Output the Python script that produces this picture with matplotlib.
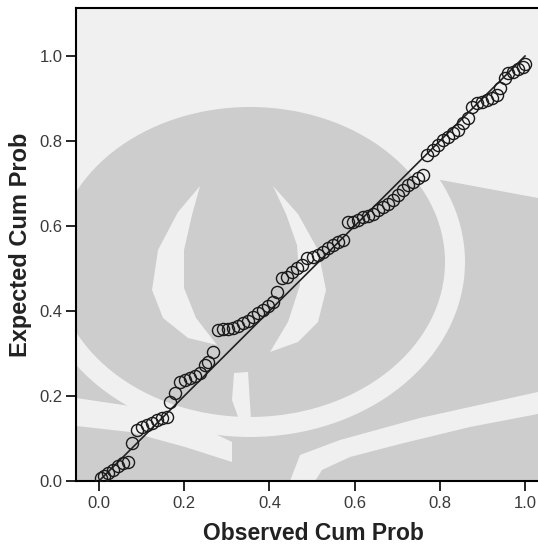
import matplotlib.pyplot as plt
from matplotlib.patches import Polygon, Ellipse

# P-P plot: observed vs expected cumulative probability
observed = [0.005, 0.012, 0.021, 0.033, 0.045, 0.056, 0.068, 0.077, 0.089, 0.101,
            0.113, 0.124, 0.136, 0.148, 0.160, 0.167, 0.178, 0.190, 0.202, 0.214,
            0.225, 0.237, 0.249, 0.256, 0.268, 0.279, 0.291, 0.303, 0.315, 0.326,
            0.338, 0.350, 0.362, 0.373, 0.385, 0.397, 0.408, 0.418, 0.430, 0.441,
            0.453, 0.465, 0.477, 0.488, 0.502, 0.514, 0.526, 0.538, 0.549, 0.561,
            0.573, 0.585, 0.596, 0.608, 0.620, 0.631, 0.643, 0.655, 0.667, 0.678,
            0.690, 0.702, 0.714, 0.725, 0.737, 0.749, 0.761, 0.770, 0.784, 0.796,
            0.808, 0.819, 0.831, 0.843, 0.854, 0.866, 0.876, 0.887, 0.899, 0.911,
            0.923, 0.934, 0.941, 0.953, 0.960, 0.972, 0.984, 0.995, 1.000]
expected = [0.007, 0.012, 0.019, 0.026, 0.035, 0.042, 0.045, 0.089, 0.120, 0.127,
            0.132, 0.136, 0.144, 0.148, 0.151, 0.186, 0.207, 0.233, 0.238, 0.242,
            0.247, 0.254, 0.273, 0.280, 0.304, 0.355, 0.358, 0.358, 0.360, 0.365,
            0.372, 0.376, 0.386, 0.395, 0.402, 0.412, 0.421, 0.445, 0.478, 0.480,
            0.492, 0.501, 0.508, 0.525, 0.527, 0.532, 0.539, 0.548, 0.555, 0.562,
            0.567, 0.609, 0.609, 0.614, 0.621, 0.624, 0.628, 0.638, 0.645, 0.652,
            0.661, 0.673, 0.685, 0.696, 0.704, 0.713, 0.720, 0.767, 0.779, 0.791,
            0.802, 0.809, 0.819, 0.826, 0.842, 0.854, 0.880, 0.889, 0.892, 0.896,
            0.901, 0.908, 0.925, 0.948, 0.960, 0.962, 0.969, 0.974, 0.981]
ref_line = [0.0, 1.0]
ticks = [0.0, 0.2, 0.4, 0.6, 0.8, 1.0]

plt.rcParams['font.family'] = ['Liberation Sans', 'DejaVu Sans']

fig = plt.figure(figsize=(5.38, 5.48), dpi=100)
ax = fig.add_axes([0.1413, 0.1223, 0.8587, 0.8631])
BG = '#f0f0f0'
WM = '#cdcdcd'
ax.set_facecolor(BG)


# faint background logo (watermark), drawn in image pixel coords
def px(x, y):
    return ((x - 76) / 462.0, (481 - y) / 473.0)


def blob(pts, color):
    ax.add_patch(Polygon([px(x, y) for x, y in pts], closed=True, facecolor=color,
                         edgecolor='none', transform=ax.transAxes, zorder=0.1))


def oval(cx, cy, w, h, color):
    c = px(cx, cy)
    ax.add_patch(Ellipse(c, w / 462.0, h / 473.0, facecolor=color, edgecolor='none',
                         transform=ax.transAxes, zorder=0.1))


blob([(76, 183), (245, 105), (430, 178), (538, 198), (538, 481), (76, 481)], WM)
blob([(290, 481), (300, 455), (340, 440), (420, 418), (538, 392), (538, 414),
      (470, 427), (400, 444), (350, 457), (322, 470), (315, 481)], BG)
blob([(76, 398), (130, 406), (190, 422), (232, 442), (232, 462), (185, 447),
      (130, 432), (76, 426)], BG)
oval(250, 262, 430, 350, BG)
oval(250, 262, 390, 310, WM)
blob([(200, 186), (178, 212), (158, 250), (152, 290), (163, 318), (188, 338),
      (217, 345), (196, 318), (184, 288), (184, 250), (192, 215)], BG)
blob([(273, 186), (298, 214), (318, 250), (326, 290), (318, 322), (298, 342),
      (270, 352), (288, 322), (300, 285), (297, 245), (286, 214)], BG)
blob([(234, 373), (248, 372), (251, 420), (242, 428), (232, 400)], BG)

ax.plot(ref_line, ref_line, color='#222222', linewidth=1.2, zorder=2)
ax.plot(observed, expected, linestyle='none', marker='o', markersize=8.7,
        markerfacecolor='none', markeredgecolor='#1a1a1a', markeredgewidth=1.0, zorder=3)

ax.set_xlim(-0.054, 1.0305)
ax.set_ylim(0, 1.113)
ax.set_xticks(ticks)
ax.set_yticks(ticks)
ax.set_xticklabels(['%.1f' % t for t in ticks])
ax.set_yticklabels(['%.1f' % t for t in ticks])
ax.tick_params(direction='out', length=7.5, width=1.2, color='black',
               labelsize=12, labelcolor='#3a3a3a')
ax.tick_params(axis='x', pad=3)
ax.tick_params(axis='y', pad=2)
for side in ['left', 'bottom', 'top']:
    ax.spines[side].set_linewidth(1.5)
ax.spines['right'].set_visible(False)

ax.set_xlabel('Observed Cum Prob', fontsize=16.5, fontweight='bold', color='#222222')
ax.set_ylabel('Expected Cum Prob', fontsize=17, fontweight='bold', color='#222222')
ax.xaxis.set_label_coords(0.514, -0.087)
ax.yaxis.set_label_coords(-0.095, 0.5)

fig.savefig('out.png', dpi=100)
